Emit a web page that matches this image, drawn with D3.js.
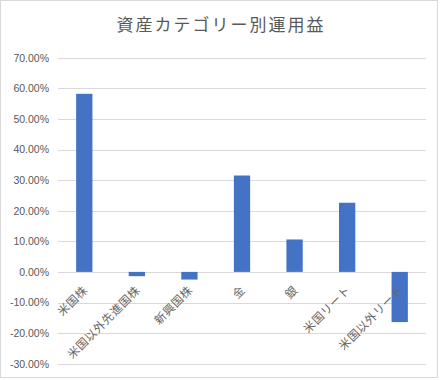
<!DOCTYPE html>
<html>
<head>
<meta charset="utf-8">
<script src="https://cdn.jsdelivr.net/npm/d3@7"></script>
<style>
  body { margin: 0; background: #fff; }
  text { font-family: "Noto Sans CJK JP", "Noto Sans", sans-serif; }
</style>
</head>
<body>
<div id="chart"></div>
<script>
const categories = ["米国株", "米国以外先進国株", "新興国株", "金", "銀", "米国リート", "米国以外リート"];
const returns = [58.2, -1.4, -2.5, 31.5, 10.6, 22.6, -16.4];
const tickValues = [70, 60, 50, 40, 30, 20, 10, 0, -10, -20, -30];

const W = 440, H = 380;
const margin = {top: 58, right: 14, bottom: 16, left: 58};

const svg = d3.select("#chart").append("svg")
    .attr("width", W)
    .attr("height", H);

// chart frame
svg.append("rect")
    .attr("x", 0.5).attr("y", 0.5)
    .attr("width", W - 3).attr("height", H - 3)
    .attr("fill", "#fff")
    .attr("stroke", "#d9d9d9");

svg.append("text")
    .attr("x", 221).attr("y", 31)
    .attr("text-anchor", "middle")
    .style("font-size", "17px")
    .style("letter-spacing", "2px")
    .attr("fill", "#595959")
    .text("資産カテゴリー別運用益");

const x = d3.scaleBand()
    .domain(categories)
    .range([margin.left, 426])
    .paddingInner(0.69)
    .paddingOuter(0.345);

const y = d3.scaleLinear()
    .domain([-30, 70])
    .range([363.7, 57.7]);

// gridlines
svg.append("g")
    .selectAll("line")
    .data(tickValues)
    .join("line")
    .attr("x1", margin.left).attr("x2", 426)
    .attr("y1", d => Math.round(y(d)) + 0.5)
    .attr("y2", d => Math.round(y(d)) + 0.5)
    .attr("stroke", "#d9d9d9")
    .attr("stroke-width", 1);

// y axis labels
const yAxis = d3.axisLeft(y)
    .tickValues(tickValues)
    .tickSize(0)
    .tickPadding(9)
    .tickFormat(d => d.toFixed(2) + "%");

svg.append("g")
    .attr("transform", `translate(${margin.left},0)`)
    .call(yAxis)
    .call(g => g.select(".domain").remove())
    .call(g => g.selectAll("text")
        .attr("fill", "#595959")
        .style("font-size", "10.5px")
        .style("font-family", "'Liberation Sans', 'Noto Sans', sans-serif"));

// bars
svg.append("g")
    .selectAll("rect")
    .data(returns)
    .join("rect")
    .attr("x", (d, i) => x(categories[i]))
    .attr("width", x.bandwidth())
    .attr("y", d => y(Math.max(0, d)))
    .attr("height", d => Math.abs(y(d) - y(0)))
    .attr("fill", "#4472c4");

// category labels, rotated
svg.append("g")
    .selectAll("text")
    .data(categories)
    .join("text")
    .attr("transform", d => `translate(${x(d) + x.bandwidth() / 2 + 4},${y(0) + 19}) rotate(-45)`)
    .attr("text-anchor", "end")
    .style("font-size", "11.5px")
    .style("letter-spacing", "0.6px")
    .attr("fill", "#666")
    .text(d => d);
</script>
</body>
</html>
